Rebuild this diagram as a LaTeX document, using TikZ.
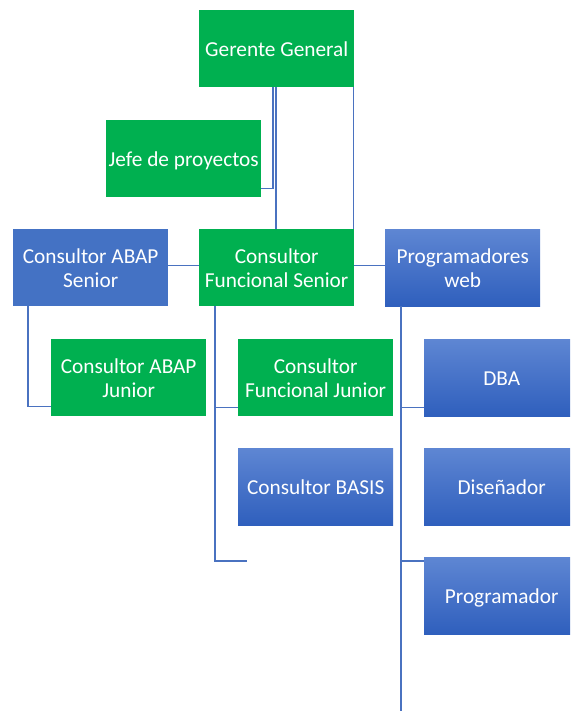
\documentclass[tikz,border=0pt]{standalone}
\usepackage{fontspec}
\setmainfont{Carlito}
\usetikzlibrary{calc}
\definecolor{boxgreen}{HTML}{00B050}
\definecolor{boxblue}{HTML}{4472C4}
\definecolor{bluetop}{HTML}{5E86D3}
\definecolor{bluebot}{HTML}{2F5FBD}
\definecolor{linkblue}{HTML}{4A72C0}
% strut that centres each line on its capitals
\newcommand\vstrut{\rule[-3.75pt]{0pt}{23.5pt}}
\begin{document}
\begin{tikzpicture}[x=1pt,y=-1pt,
  box/.style={anchor=north west, minimum width=155pt, minimum height=77pt,
    inner sep=0pt, align=center, text=white,
    font=\fontsize{21.3}{23.5}\selectfont},
  greenbox/.style={box, fill=boxgreen},
  bluebox/.style={box, fill=boxblue},
  shadedbox/.style={box, top color=bluetop, bottom color=bluebot},
  link/.style={draw=linkblue, line width=1.2pt}]
\useasboundingbox (0,0) rectangle (570,711);
\clip (0,0) rectangle (570,711);

% boxes
\node[greenbox]  (gg)   at (199,10)  {\vstrut Gerente General};
\node[greenbox]  (jefe) at (106,120) {\vstrut Jefe de proyectos};
\node[bluebox]   (abs)  at (13,229)  {\vstrut Consultor ABAP\\\vstrut Senior};
\node[greenbox]  (fs)   at (199,229) {\vstrut Consultor\\\vstrut Funcional Senior};
\node[shadedbox] (pw)   at (385,229) {\vstrut Programadores\\\vstrut web};
\node[greenbox]  (abj)  at (51,339)  {\vstrut Consultor ABAP\\\vstrut Junior};
\node[greenbox]  (fj)   at (238,339) {\vstrut Consultor\\\vstrut Funcional Junior};
\node[shadedbox] (basis) at (238,448) {\vstrut Consultor BASIS};
\node[shadedbox] (dba)  at (424,339) {\vstrut DBA};
\node[shadedbox] (dis)  at (424,448) {\vstrut Diseñador};
\node[shadedbox] (prog) at (424,557) {\vstrut Programador};

% free ends of the open connectors
\coordinate (fsend) at (247,561);
\coordinate (pwend) at (401,715);

% connectors
\draw[link] ([xshift=74pt]gg.south west) |- ([yshift=9pt]jefe.south east);
\draw[link] ([xshift=77pt]gg.south west) -- ([xshift=77pt]fs.north west);
\draw[link] ([xshift=-1pt]gg.south east) -- ([xshift=-1pt]fs.north east);
\draw[link] ([yshift=2pt]abs.east) -- ([yshift=2pt]fs.west);
\draw[link] ([yshift=2pt]fs.east) -- ([yshift=2pt]pw.west);
\draw[link] ([xshift=15pt]abs.south west) |- ([yshift=10pt]abj.south west);
\draw[link] ([xshift=16pt]fs.south west) |- ([yshift=9pt]fj.south west);
\draw[link] ([xshift=16pt]fs.south west) |- (fsend);
\draw[link] ([xshift=16pt]pw.south west) -- (pw.south west -| pwend) -- (pwend);
\draw[link] ([xshift=16pt]pw.south west) |- ([yshift=9pt]dba.south west);
\draw[link] ([xshift=16pt]pw.south west) |- ([yshift=-4pt]prog.north west);
\end{tikzpicture}
\end{document}
